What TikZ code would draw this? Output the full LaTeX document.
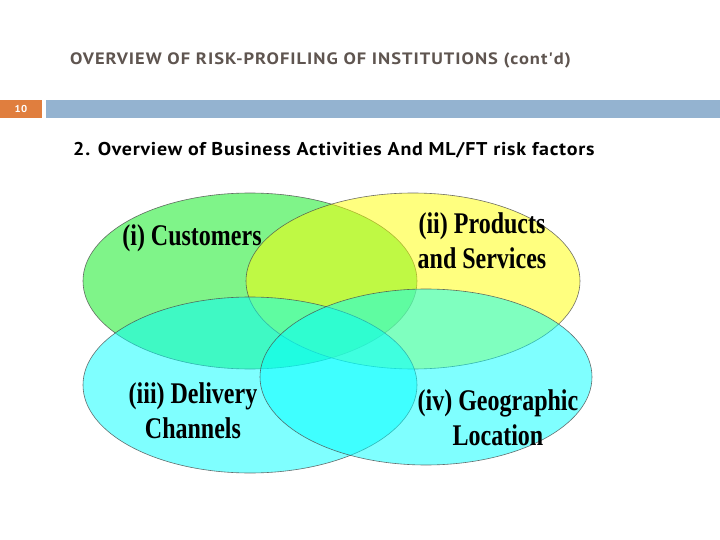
\documentclass[tikz,border=0pt]{standalone}
\usepackage{fontspec}
\setmainfont{Liberation Serif}
\newfontfamily\headfont[FakeStretch=1.12, LetterSpace=6]{PT Sans}
\newfontfamily\subfont[FakeStretch=1.08, LetterSpace=4]{PT Sans}
\newfontfamily\vennfont[FakeStretch=0.8]{Liberation Serif}
\definecolor{titlegray}{RGB}{95,85,80}
\definecolor{numorange}{RGB}{224,126,62}
\definecolor{barblue}{RGB}{148,179,208}
\definecolor{setgreen}{RGB}{0,235,20}
\definecolor{setyellow}{RGB}{255,255,0}
\definecolor{setcyan}{RGB}{0,255,255}
\tikzset{
  venn/.style={fill opacity=0.5, draw=black!70, draw opacity=0.8, line width=0.6pt},
  vlabel/.style={font=\vennfont\fontsize{30}{35}\selectfont\bfseries, align=center, inner sep=0pt}
}
\begin{document}
\begin{tikzpicture}[x=1pt, y=-1pt]
    \useasboundingbox[fill=white] (0,0) rectangle (720,540);

    % Heading
    \node[font=\headfont\fontsize{16.5}{18}\selectfont\bfseries, text=titlegray, anchor=west, inner sep=0pt]
        (title) at (70,60) {OVERVIEW OF RISK-PROFILING OF INSTITUTIONS (cont'd)};

    % Slide number and bar
    \fill[numorange] (0,100) rectangle (42,118);
    \fill[barblue] (46,100) rectangle (720,118);
    \node[font=\subfont\fontsize{10}{11}\selectfont\bfseries, text=white, inner sep=0pt]
        (num) at (21,109) {10};

    % Sub heading
    \node[font=\subfont\fontsize{18.5}{20}\selectfont\bfseries, anchor=west, inner sep=0pt]
        (sub) at (73,150) {2. Overview of Business Activities And ML/FT risk factors};

    % Sets
    \draw[venn, fill=setgreen] (250,281) ellipse (167 and 88);
    \draw[venn, fill=setyellow] (413,281) ellipse (167 and 88);
    \draw[venn, fill=setcyan] (250,385) ellipse (167 and 88);
    \draw[venn, fill=setcyan] (426,377) ellipse (166 and 88);

    % Labels
    \node[vlabel] (cust) at (192,238) {(i) Customers};
    \node[vlabel] (prod) at (482,241) {(ii) Products\\and Services};
    \node[vlabel] (chan) at (193,411) {(iii) Delivery\\Channels};
    \node[vlabel] (geo) at (498,418) {(iv) Geographic\\Location};
\end{tikzpicture}
\end{document}
